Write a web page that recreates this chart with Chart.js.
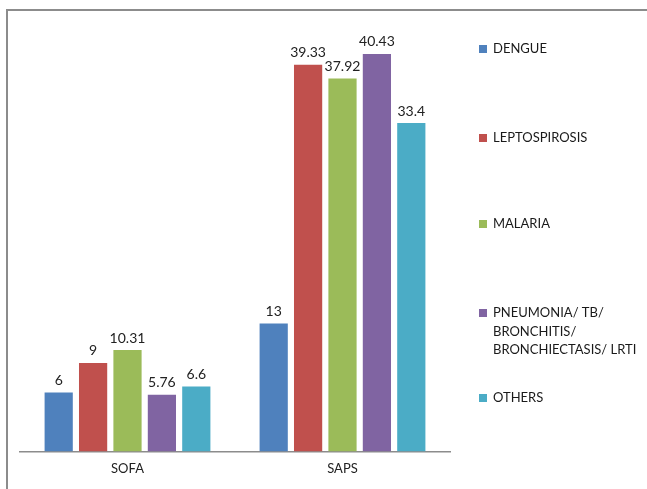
<!DOCTYPE html>
<html>
<head>
<meta charset="utf-8">
<script src="https://cdn.jsdelivr.net/npm/chart.js@4.4.1/dist/chart.umd.min.js"></script>
<style>
    html, body { margin: 0; padding: 0; background: #fff; overflow: hidden; }
    #wrap { position: relative; width: 647px; height: 489px; }
    #frame { position: absolute; left: 6px; top: 9px; width: 700px; height: 600px; border: 2px solid #8c8c8c; box-sizing: border-box; }
    #scoreChart { position: absolute; left: 0; top: 0; }
</style>
</head>
<body>
<div id="wrap">
    <div id="frame"></div>
    <canvas id="scoreChart" width="647" height="489"></canvas>
</div>
<script>
const scores = ['SOFA', 'SAPS'];
const groups = ['DENGUE', 'LEPTOSPIROSIS', 'MALARIA', 'PNEUMONIA/ TB/ BRONCHITIS/ BRONCHIECTASIS/ LRTI', 'OTHERS'];
const legendLines = [['DENGUE'], ['LEPTOSPIROSIS'], ['MALARIA'], ['PNEUMONIA/ TB/', 'BRONCHITIS/', 'BRONCHIECTASIS/ LRTI'], ['OTHERS']];
const dengue = [6, 13];
const lepto = [9, 39.33];
const malaria = [10.31, 37.92];
const pneumonia = [5.76, 40.43];
const others = [6.6, 33.4];
const colors = ['#4f81bd', '#c0504d', '#9bbb59', '#8064a2', '#4bacc6'];
const legendY = [49, 138, 224, 313, 398];

const seriesValues = [dengue, lepto, malaria, pneumonia, others];

// value labels above bars
const valueLabels = {
    id: 'valueLabels',
    afterDatasetsDraw(chart) {
        const ctx = chart.ctx;
        ctx.save();
        ctx.font = '14px Lato';
        ctx.fillStyle = '#222';
        ctx.textAlign = 'center';
        ctx.textBaseline = 'bottom';
        chart.data.datasets.forEach((ds, i) => {
            chart.getDatasetMeta(i).data.forEach((bar, j) => {
                ctx.fillText(String(ds.data[j]), bar.x, bar.y - 5);
            });
        });
        ctx.restore();
    }
};

// legend on the right side, drawn by hand because of the uneven spacing
const sideLegend = {
    id: 'sideLegend',
    afterDraw(chart) {
        const ctx = chart.ctx;
        ctx.save();
        ctx.font = '13px Lato';
        ctx.textBaseline = 'middle';
        chart.data.datasets.forEach((ds, i) => {
            const y = legendY[i];
            ctx.fillStyle = ds.backgroundColor;
            ctx.fillRect(479, y - 4, 8, 8);
            ctx.fillStyle = '#1a1a1a';
            legendLines[i].forEach((line, k) => {
                ctx.fillText(line, 493, y + k * 18.5);
            });
        });
        ctx.restore();
    }
};

new Chart(document.getElementById('scoreChart'), {
    type: 'bar',
    data: {
        labels: scores,
        datasets: groups.map((g, i) => ({
            label: g,
            data: seriesValues[i],
            backgroundColor: colors[i],
            borderWidth: 0,
            categoryPercentage: 0.8,
            barPercentage: 0.82
        }))
    },
    options: {
        responsive: false,
        animation: false,
        layout: { padding: { left: 20, right: 197, top: 9, bottom: 2 } },
        plugins: {
            legend: { display: false },
            tooltip: { enabled: false }
        },
        scales: {
            y: {
                display: false,
                min: 0,
                max: 45
            },
            x: {
                grid: { display: false, drawTicks: false },
                border: { display: true, color: '#8c8c8c', width: 1.5 },
                ticks: { padding: 10, color: '#222', font: { family: 'Lato', size: 13 } }
            }
        }
    },
    plugins: [valueLabels, sideLegend]
});
</script>
</body>
</html>
